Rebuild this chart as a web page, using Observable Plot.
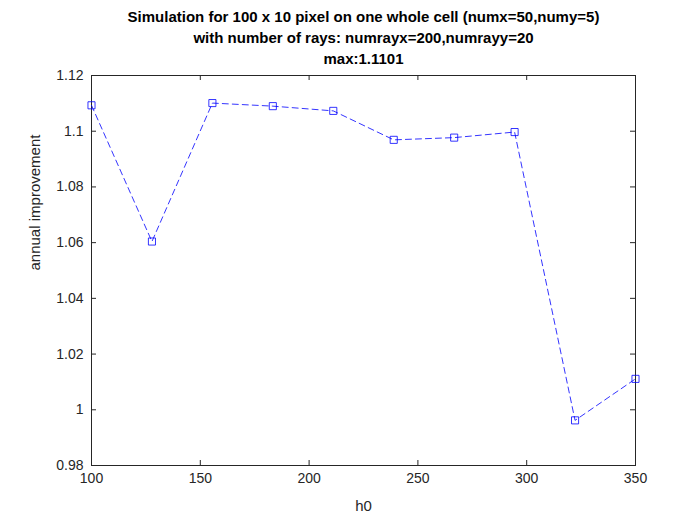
<!DOCTYPE html>
<html><head>
<script src="https://cdn.jsdelivr.net/npm/d3@7"></script>
<script src="https://cdn.jsdelivr.net/npm/@observablehq/plot@0.6"></script>
<style>body{margin:0;background:#fff;font-family:"Liberation Sans",Arial,sans-serif}</style>
</head><body><div id="c"></div>
<script>
const h0 = [100, 127.78, 155.56, 183.33, 211.11, 238.89, 266.67, 294.44, 322.22, 350];
const improvement = [1.1093, 1.0604, 1.1101, 1.1090, 1.1073, 1.0969, 1.0977, 1.0997, 0.9962, 1.0111];
const xTicks = [100, 150, 200, 250, 300, 350];
const yTicks = [0.98, 1, 1.02, 1.04, 1.06, 1.08, 1.1, 1.12];
const titleLines = ["Simulation for 100 x 10 pixel on one whole cell (numx=50,numy=5)", "with number of rays: numrayx=200,numrayy=20", "max:1.1101"];
const data = h0.map((x, i) => ({x, y: improvement[i]}));
const tx = 5 * 250 / 544, ty = 5 * 0.14 / 390;
const fmtY = d => d === 1 ? "1" : d3.format(".2f")(d).replace(/0$/, "").replace(/\.$/,"");
const plot = Plot.plot({
  width: 700, height: 525,
  marginLeft: 91, marginRight: 65, marginTop: 75, marginBottom: 60,
  style: {fontFamily: "'Liberation Sans', Arial, sans-serif", fontSize: "14px", color: "#262626"},
  x: {domain: [100, 350]},
  y: {domain: [0.98, 1.12]},
  marks: [
    Plot.frame({stroke: "#262626"}),
    Plot.ruleX(xTicks, {y1: 0.98, y2: 0.98 + ty, stroke: "#262626"}),
    Plot.ruleX(xTicks, {y1: 1.12, y2: 1.12 - ty, stroke: "#262626"}),
    Plot.ruleY(yTicks, {x1: 100, x2: 100 + tx, stroke: "#262626"}),
    Plot.ruleY(yTicks, {x1: 350, x2: 350 - tx, stroke: "#262626"}),
    Plot.axisX(xTicks, {tickSize: 0, tickPadding: 8, fontSize: 14, label: null}),
    Plot.axisY(yTicks, {tickSize: 0, tickPadding: 8, tickFormat: fmtY, fontSize: 14, label: null}),
    Plot.text(["h0"], {frameAnchor: "bottom", dy: 45, fontSize: 15, fill: "#262626"}),
    Plot.text(["annual improvement"], {frameAnchor: "left", dx: -56, rotate: -90, fontSize: 15, fill: "#262626"}),
    Plot.line(data, {x: "x", y: "y", stroke: "#0000ff", strokeDasharray: "6,4", strokeWidth: 0.8}),
    Plot.dot(data, {x: "x", y: "y", symbol: "square", r: 4, stroke: "#0000ff", fill: "none", strokeWidth: 0.8}),
    ...titleLines.map((t, i) => Plot.text([t], {frameAnchor: "top", dy: -64 + i * 21, fontWeight: "bold", fontSize: 15, fill: "#000"}))
  ]
});
document.getElementById("c").appendChild(plot);
</script></body></html>
